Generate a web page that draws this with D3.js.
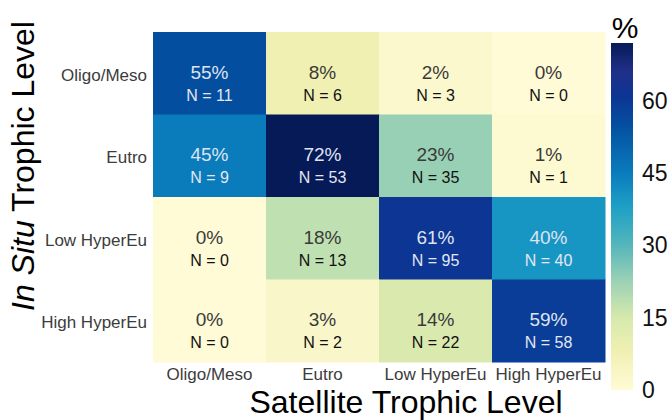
<!DOCTYPE html>
<html>
<head>
<meta charset="utf-8">
<script src="https://cdn.jsdelivr.net/npm/d3@7"></script>
<style>
  html, body { margin: 0; padding: 0; background: #fff; }
  svg { display: block; font-family: "Liberation Sans", Arial, sans-serif; }
</style>
</head>
<body>
<svg id="chart" width="670" height="420"></svg>
<script>
// Trophic level categories (satellite on x, in situ on y)
const satelliteLevels = ["Oligo/Meso", "Eutro", "Low HyperEu", "High HyperEu"];
const inSituLevels = ["Oligo/Meso", "Eutro", "Low HyperEu", "High HyperEu"];

// Percent of each in situ class assigned to each satellite class (rows = in situ)
const pctOligoMeso = [55, 8, 2, 0];
const pctEutro = [45, 72, 23, 1];
const pctLowHyperEu = [0, 18, 61, 40];
const pctHighHyperEu = [0, 3, 14, 59];

// Number of matchups in each cell
const nOligoMeso = [11, 6, 3, 0];
const nEutro = [9, 53, 35, 1];
const nLowHyperEu = [0, 13, 95, 40];
const nHighHyperEu = [0, 2, 22, 58];

// Colour bar ticks and range
const colorTicks = [0, 15, 30, 45, 60];
const colorMax = 72;

// Yellow-green-blue ramp used for the percentages
const rampValues = [0, 8, 15, 23, 30, 38, 45, 55, 61, 66, 72];
const rampColors = ["#fffbd6", "#f0f0b2", "#d6e9ad", "#98d0b5", "#55b6bb", "#1da0c6",
                    "#0a7cbc", "#044ea0", "#0c3594", "#20308a", "#071a58"];

const pctRows = [pctOligoMeso, pctEutro, pctLowHyperEu, pctHighHyperEu];
const nRows = [nOligoMeso, nEutro, nLowHyperEu, nHighHyperEu];

const cells = [];
inSituLevels.forEach((row, i) => {
  satelliteLevels.forEach((col, j) => {
    cells.push({ row, col, pct: pctRows[i][j], n: nRows[i][j] });
  });
});

const svg = d3.select("#chart");
const plot = { left: 153, right: 605, top: 32, bottom: 362 };

const x = d3.scaleBand().domain(satelliteLevels).range([plot.left, plot.right]).padding(0);
const y = d3.scaleBand().domain(inSituLevels).range([plot.top, plot.bottom]).padding(0);
const color = d3.scaleLinear()
  .domain(rampValues)
  .range(rampColors)
  .interpolate(d3.interpolateRgb)
  .clamp(true);

// Heatmap cells
svg.append("g").selectAll("rect")
  .data(cells).join("rect")
  .attr("x", d => x(d.col))
  .attr("y", d => y(d.row))
  .attr("width", x.bandwidth() + 0.5)
  .attr("height", y.bandwidth() + 0.5)
  .attr("fill", d => color(d.pct));

// Cell labels: percentage and count
const labels = svg.append("g").selectAll("g")
  .data(cells).join("g")
  .attr("transform", d => `translate(${x(d.col) + x.bandwidth() / 2},${y(d.row) + y.bandwidth() / 2})`);

const isDark = d => d.pct >= 30;

labels.append("text")
  .attr("text-anchor", "middle")
  .attr("dy", "0.35em")
  .attr("y", -1)
  .attr("font-size", 19)
  .attr("fill", d => isDark(d) ? "#dfe3f0" : "#3a3a3a")
  .text(d => `${d.pct}%`);

labels.append("text")
  .attr("text-anchor", "middle")
  .attr("dy", "0.35em")
  .attr("y", 22)
  .attr("font-size", 16)
  .attr("fill", d => isDark(d) ? "#e4e7f2" : "#111")
  .text(d => `N = ${d.n}`);

// Axes
const xAxis = svg.append("g")
  .attr("transform", `translate(0,${plot.bottom})`)
  .call(d3.axisBottom(x).tickSize(0).tickPadding(6));
const yAxis = svg.append("g")
  .attr("transform", `translate(${plot.left},0)`)
  .call(d3.axisLeft(y).tickSize(0).tickPadding(6));
[xAxis, yAxis].forEach(a => {
  a.select(".domain").remove();
  a.selectAll("text")
    .attr("font-size", 17)
    .attr("fill", "#3c3c3c")
    .style("font-family", "'Liberation Sans', Arial, sans-serif");
});
yAxis.selectAll("text").attr("dy", "0.45em");

// Axis titles
svg.append("text")
  .attr("x", 406)
  .attr("y", 413)
  .attr("text-anchor", "middle")
  .attr("font-size", 32)
  .attr("fill", "#000")
  .text("Satellite Trophic Level");

const yTitle = svg.append("text")
  .attr("transform", "translate(34,166) rotate(-90)")
  .attr("text-anchor", "middle")
  .attr("font-size", 32)
  .attr("fill", "#000");
yTitle.append("tspan").attr("font-style", "italic").text("In Situ");
yTitle.append("tspan").text(" Trophic Level");

// Colour bar
const bar = { x: 611, width: 22, top: 43, bottom: 390 };
const cy = d3.scaleLinear().domain([0, colorMax]).range([bar.bottom, bar.top]);

const grad = svg.append("defs").append("linearGradient")
  .attr("id", "cbar")
  .attr("x1", 0).attr("y1", 1).attr("x2", 0).attr("y2", 0);
d3.range(0, colorMax + 0.001, 1).forEach(v => {
  grad.append("stop")
    .attr("offset", v / colorMax)
    .attr("stop-color", color(v));
});

svg.append("rect")
  .attr("x", bar.x)
  .attr("y", bar.top)
  .attr("width", bar.width)
  .attr("height", bar.bottom - bar.top)
  .attr("fill", "url(#cbar)");

const cAxis = svg.append("g")
  .attr("transform", `translate(${bar.x + bar.width},0)`)
  .call(d3.axisRight(cy).tickValues(colorTicks).tickSize(0).tickPadding(9));
cAxis.select(".domain").remove();
cAxis.selectAll("text")
  .attr("font-size", 23)
  .attr("fill", "#111")
  .style("font-family", "'Liberation Sans', Arial, sans-serif");

svg.append("text")
  .attr("x", 625)
  .attr("y", 38)
  .attr("text-anchor", "middle")
  .attr("font-size", 30)
  .attr("fill", "#000")
  .text("%");
</script>
</body>
</html>
